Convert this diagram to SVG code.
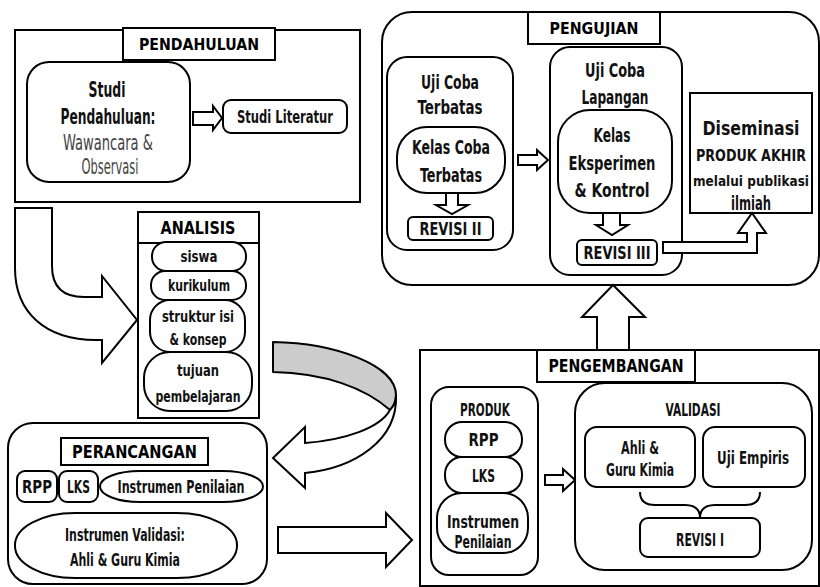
<svg xmlns="http://www.w3.org/2000/svg" width="820" height="587" viewBox="0 0 820 587">
<style>
.b{fill:#fff;stroke:#000;stroke-width:2}
.a{fill:#fff;stroke:#000;stroke-width:2;stroke-linejoin:miter}
.t{font-family:"Liberation Sans Narrow","DejaVu Sans Condensed","Liberation Sans",sans-serif;font-weight:bold;text-anchor:middle;fill:#111}
.l{font-weight:normal;fill:#444}
.h{font-family:"DejaVu Sans","Liberation Sans",sans-serif;font-weight:900;text-anchor:middle;fill:#000}
</style>
<rect width="820" height="587" fill="#fff"/>

<g id="pendahuluan">
<rect class="b" x="15" y="30" width="345" height="172"/>
<rect class="b" x="123" y="28" width="152" height="32"/>
<text class="h" x="199" y="50" font-size="16" textLength="120" lengthAdjust="spacingAndGlyphs">PENDAHULUAN</text>
<rect class="b" x="27" y="62" width="163" height="120" rx="22"/>
<text class="t" x="107" y="97" font-size="21" textLength="37" lengthAdjust="spacingAndGlyphs">Studi</text>
<text class="t" x="108" y="124" font-size="21" textLength="95" lengthAdjust="spacingAndGlyphs">Pendahuluan:</text>
<text class="t l" x="108" y="150" font-size="21" textLength="90" lengthAdjust="spacingAndGlyphs">Wawancara &amp;</text>
<text class="t l" x="110" y="174" font-size="21" textLength="57" lengthAdjust="spacingAndGlyphs">Observasi</text>
<rect class="b" x="223" y="100" width="124" height="33" rx="8"/>
<text class="t" x="285" y="123" font-size="18" textLength="96" lengthAdjust="spacingAndGlyphs">Studi Literatur</text>
</g>

<g id="analisis">
<rect class="b" x="138" y="212" width="121" height="206"/>
<line x1="138" y1="243" x2="259" y2="243" stroke="#000" stroke-width="2"/>
<text class="h" x="198" y="234" font-size="18" textLength="75" lengthAdjust="spacingAndGlyphs">ANALISIS</text>
<rect class="b" x="152" y="242" width="94" height="29" rx="14"/>
<text class="t" x="199" y="262" font-size="16" textLength="37" lengthAdjust="spacingAndGlyphs">siswa</text>
<rect class="b" x="151" y="271" width="95" height="29" rx="14"/>
<text class="t" x="199" y="291" font-size="16" textLength="62" lengthAdjust="spacingAndGlyphs">kurikulum</text>
<rect class="b" x="150" y="300" width="95" height="52" rx="20"/>
<text class="t" x="198" y="322" font-size="16" textLength="72" lengthAdjust="spacingAndGlyphs">struktur isi</text>
<text class="t" x="198" y="345" font-size="16" textLength="57" lengthAdjust="spacingAndGlyphs">&amp; konsep</text>
<rect class="b" x="144" y="352" width="108" height="59" rx="26"/>
<text class="t" x="198" y="376" font-size="16" textLength="42" lengthAdjust="spacingAndGlyphs">tujuan</text>
<text class="t" x="198" y="402" font-size="16" textLength="85" lengthAdjust="spacingAndGlyphs">pembelajaran</text>
</g>

<g id="perancangan">
<rect class="b" x="8" y="423" width="259" height="161" rx="25"/>
<rect class="b" x="61" y="438" width="147" height="27"/>
<text class="h" x="134.5" y="458" font-size="17" textLength="125" lengthAdjust="spacingAndGlyphs">PERANCANGAN</text>
<rect class="b" x="17" y="471" width="40" height="31" rx="8"/>
<text class="t" x="37" y="493" font-size="17" textLength="30" lengthAdjust="spacingAndGlyphs">RPP</text>
<rect class="b" x="59" y="471" width="39" height="31" rx="8"/>
<text class="t" x="78.5" y="493" font-size="17" textLength="23" lengthAdjust="spacingAndGlyphs">LKS</text>
<rect class="b" x="100" y="471" width="163" height="31" rx="40" ry="15.5"/>
<text class="t" x="181" y="493" font-size="17" textLength="127" lengthAdjust="spacingAndGlyphs">Instrumen Penilaian</text>
<rect class="b" x="15" y="513" width="222" height="65" rx="60" ry="32"/>
<text class="t" x="125" y="541" font-size="17" textLength="120" lengthAdjust="spacingAndGlyphs">Instrumen Validasi:</text>
<text class="t" x="125" y="566" font-size="17" textLength="110" lengthAdjust="spacingAndGlyphs">Ahli &amp; Guru Kimia</text>
</g>

<g id="pengujian">
<rect class="b" x="382" y="12" width="437" height="273" rx="30"/>
<rect class="b" x="528" y="12" width="132" height="32"/>
<text class="h" x="594" y="34" font-size="15" textLength="89" lengthAdjust="spacingAndGlyphs">PENGUJIAN</text>
<g id="uji-terbatas">
<rect class="b" x="387" y="57" width="126" height="193" rx="20"/>
<text class="t" x="450" y="89" font-size="20" textLength="58" lengthAdjust="spacingAndGlyphs">Uji Coba</text>
<text class="t" x="450" y="114" font-size="20" textLength="65" lengthAdjust="spacingAndGlyphs">Terbatas</text>
<rect class="b" x="397" y="127" width="108" height="66" rx="30"/>
<text class="t" x="451" y="154" font-size="20" textLength="78" lengthAdjust="spacingAndGlyphs">Kelas Coba</text>
<text class="t" x="451" y="182" font-size="20" textLength="62" lengthAdjust="spacingAndGlyphs">Terbatas</text>
<rect class="b" x="408" y="217" width="85" height="23" rx="5"/>
<text class="t" x="450.5" y="235" font-size="18" textLength="62" lengthAdjust="spacingAndGlyphs">REVISI II</text>
</g>
<g id="uji-lapangan">
<rect class="b" x="550" y="47" width="132" height="228" rx="20"/>
<text class="t" x="615" y="77" font-size="20" textLength="60" lengthAdjust="spacingAndGlyphs">Uji Coba</text>
<text class="t" x="615" y="104" font-size="20" textLength="67" lengthAdjust="spacingAndGlyphs">Lapangan</text>
<rect class="b" x="558" y="110" width="114" height="103" rx="32"/>
<text class="t" x="612" y="142" font-size="20" textLength="37" lengthAdjust="spacingAndGlyphs">Kelas</text>
<text class="t" x="612" y="170" font-size="20" textLength="87" lengthAdjust="spacingAndGlyphs">Eksperimen</text>
<text class="t" x="612" y="197" font-size="20" textLength="75" lengthAdjust="spacingAndGlyphs">&amp; Kontrol</text>
<rect class="b" x="577" y="240" width="80" height="25" rx="5"/>
<text class="t" x="617" y="259" font-size="18" textLength="67" lengthAdjust="spacingAndGlyphs">REVISI III</text>
</g>
<g id="diseminasi">
<rect class="b" x="690" y="93" width="122" height="120"/>
<text class="t" x="751" y="135" font-size="20" textLength="97" lengthAdjust="spacingAndGlyphs">Diseminasi</text>
<text class="t" x="751" y="161" font-size="15" textLength="110" lengthAdjust="spacingAndGlyphs">PRODUK AKHIR</text>
<text class="t" x="751" y="186" font-size="13.5" textLength="116" lengthAdjust="spacingAndGlyphs">melalui publikasi</text>
<text class="t" x="751" y="210" font-size="20" textLength="40" lengthAdjust="spacingAndGlyphs">ilmiah</text>
</g>
</g>

<g id="pengembangan">
<rect class="b" x="420" y="350" width="399" height="236"/>
<rect class="b" x="537" y="350" width="158" height="32"/>
<text class="h" x="616" y="372" font-size="17" textLength="135" lengthAdjust="spacingAndGlyphs">PENGEMBANGAN</text>
<g id="produk">
<rect class="b" x="431" y="387" width="107" height="188" rx="18"/>
<text class="t" x="485" y="416" font-size="18" textLength="50" lengthAdjust="spacingAndGlyphs">PRODUK</text>
<rect class="b" x="445" y="422" width="77" height="35" rx="17"/>
<text class="t" x="483.5" y="446" font-size="18" textLength="30" lengthAdjust="spacingAndGlyphs">RPP</text>
<rect class="b" x="445" y="457" width="77" height="36" rx="17"/>
<text class="t" x="483.5" y="482" font-size="18" textLength="23" lengthAdjust="spacingAndGlyphs">LKS</text>
<rect class="b" x="437" y="493" width="91" height="60" rx="25"/>
<text class="t" x="483" y="528" font-size="17" textLength="72" lengthAdjust="spacingAndGlyphs">Instrumen</text>
<text class="t" x="483" y="548" font-size="17" textLength="57" lengthAdjust="spacingAndGlyphs">Penilaian</text>
</g>
<g id="validasi">
<rect class="b" x="575" y="383" width="237" height="187" rx="30"/>
<text class="t" x="693" y="416" font-size="18" textLength="55" lengthAdjust="spacingAndGlyphs">VALIDASI</text>
<rect class="b" x="585" y="427" width="110" height="60" rx="12"/>
<text class="t" x="640" y="454" font-size="17" textLength="38" lengthAdjust="spacingAndGlyphs">Ahli &amp;</text>
<text class="t" x="640" y="476" font-size="17" textLength="68" lengthAdjust="spacingAndGlyphs">Guru Kimia</text>
<rect class="b" x="703" y="427" width="102" height="60" rx="12"/>
<text class="t" x="753" y="464" font-size="18" textLength="72" lengthAdjust="spacingAndGlyphs">Uji Empiris</text>
<path d="M640,492 Q640,505 655,505 L685,505 Q700,505 700,518 Q700,505 715,505 L745,505 Q760,505 760,492" fill="none" stroke="#000" stroke-width="2"/>
<rect class="b" x="640" y="518" width="120" height="39" rx="8"/>
<text class="t" x="700" y="546" font-size="18" textLength="48" lengthAdjust="spacingAndGlyphs">REVISI I</text>
</g>
</g>

<g id="connectors">
<path class="a" d="M15,208 L52,208 L52,266 Q52,297 84,297 L102,297 L102,276 L137,320 L102,363 L102,340 L96,340 C45,340 15,312 15,268 Z"/>
<path class="a" d="M193,112 L213,112 L213,106 L222,118 L213,130 L213,125 L193,125 Z"/>
<path d="M273,342 C335,343 396,365 396,395 C396,402 394,406 390,410 C365,388 325,373 273,372 Z" fill="#cccccc" stroke="#000" stroke-width="2" stroke-linejoin="round"/>
<path class="a" d="M396,395 C398,440 355,468 305,473 L305,488 L273,458 L305,427 L305,443 C345,440 380,428 390,410 C394,406 396,402 396,395 Z"/>
<path class="a" d="M278,527 L386,527 L386,513 L412,540 L386,567 L386,553 L278,553 Z"/>
<path class="a" d="M545,475 L563,475 L563,469 L575,480 L563,491 L563,485 L545,485 Z"/>
<path class="a" d="M597,350 L597,317 L582,317 L613,285 L645,317 L629,317 L629,350 Z"/>
<path class="a" d="M518,155 L537,155 L537,150 L548,160 L537,170 L537,165 L518,165 Z"/>
<path class="a" d="M446,193 L458,193 L458,205 L468,205 L452,214 L436,205 L446,205 Z"/>
<path class="a" d="M603,213 L620,213 L620,225 L628,225 L612,235 L596,225 L603,225 Z"/>
<path class="a" d="M663,242 L747,242 L747,233 L738,233 L752,213 L766,233 L757,233 L757,253 L663,253 Z"/>
</g>
</svg>
